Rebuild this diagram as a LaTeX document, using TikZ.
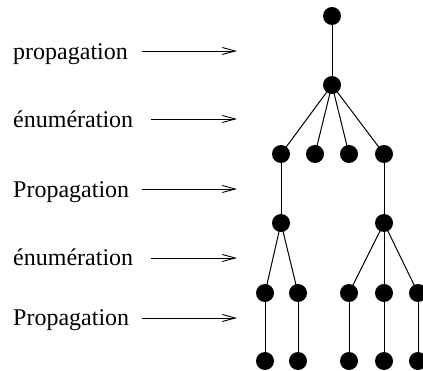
\documentclass[tikz,border=0pt]{standalone}
\usepackage{fontspec}
\setmainfont{Liberation Serif}
\usetikzlibrary{arrows.meta}
\begin{document}
\begin{tikzpicture}[x=1pt,y=-1pt,
  dot/.style={circle,fill=black,draw=none,minimum size=18pt,inner sep=0pt},
  lbl/.style={anchor=base west,inner sep=0pt,font=\fontsize{24}{28}\selectfont},
  edge/.style={line width=1pt},
  lvlarrow/.style={line width=0.9pt,-{Straight Barb[length=13pt,width=7pt,line width=0.9pt]}}]
\clip (0,0) rectangle (423,371);
% tree
\node[dot] (r) at (332,16) {};
\node[dot] (a) at (332,85) {};
\node[dot] (b1) at (281,154) {};
\node[dot] (b2) at (315,154) {};
\node[dot] (b3) at (349,154) {};
\node[dot] (b4) at (384,154) {};
\node[dot] (c1) at (281,223) {};
\node[dot] (c2) at (384,223) {};
\node[dot] (d1) at (265,293) {};
\node[dot] (d2) at (298,293) {};
\node[dot] (d3) at (349,293) {};
\node[dot] (d4) at (384,293) {};
\node[dot] (d5) at (418,293) {};
\node[dot] (e1) at (265,361) {};
\node[dot] (e2) at (298,361) {};
\node[dot] (e3) at (349,361) {};
\node[dot] (e4) at (384,361) {};
\node[dot] (e5) at (418,361) {};
\draw[edge] (r) -- (a);
\foreach \t in {b1,b2,b3,b4} \draw[edge] (a.center) -- (\t.center);
\draw[edge] (b1) -- (c1);
\draw[edge] (b4) -- (c2);
\foreach \t in {d1,d2} \draw[edge] (c1.center) -- (\t.center);
\foreach \t in {d3,d4,d5} \draw[edge] (c2.center) -- (\t.center);
\foreach \i in {1,...,5} \draw[edge] (d\i) -- (e\i);
% labels
\node[lbl] (l1) at (13,59.5) {propagation};
\node[lbl] (l2) at (13,128) {énumération};
\node[lbl] (l3) at (13,197.5) {Propagation};
\node[lbl] (l4) at (13,266) {énumération};
\node[lbl] (l5) at (13,326) {Propagation};
\coordinate (s1) at (142,51);  \coordinate (t1) at (237,51);
\coordinate (s2) at (151,119); \coordinate (t2) at (237,119);
\coordinate (s3) at (142,189); \coordinate (t3) at (237,189);
\coordinate (s4) at (151,258); \coordinate (t4) at (237,258);
\coordinate (s5) at (142,318); \coordinate (t5) at (237,318);
\foreach \i in {1,...,5} \draw[lvlarrow] (s\i) -- (t\i);
\end{tikzpicture}
\end{document}
